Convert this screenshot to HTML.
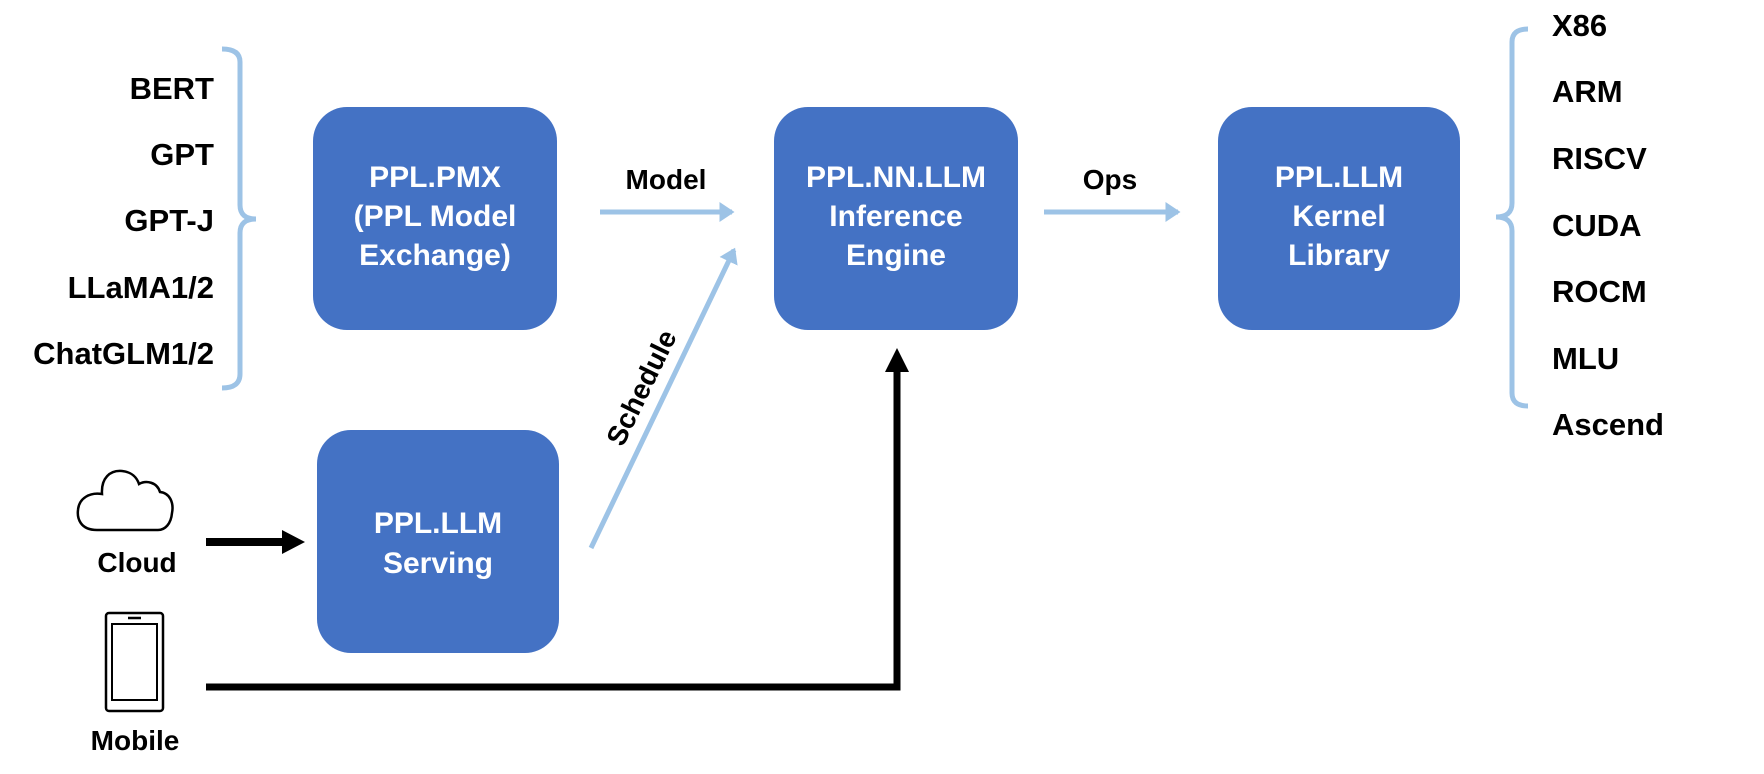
<!DOCTYPE html>
<html><head><meta charset="utf-8"><style>
body{margin:0;background:#fff;}
svg text{font-family:"Liberation Sans","Noto Sans CJK SC",sans-serif;font-weight:bold;}
</style></head><body>
<svg width="1764" height="769" viewBox="0 0 1764 769" xmlns="http://www.w3.org/2000/svg">
<defs>
<marker id="lb" markerWidth="4" markerHeight="4" refX="2.5" refY="2" orient="auto" markerUnits="strokeWidth"><path d="M0,0 L3,2 L0,4 z" fill="#9DC3E6"/></marker>
</defs>
<path d="M222,49 Q240,49 240,62 L240,205 Q240,219 256,219 Q240,219 240,233 L240,374 Q240,388 222,388" fill="none" stroke="#9DC3E6" stroke-width="5"/>
<g font-size="31" text-anchor="end" fill="#000">
<text x="214" y="99">BERT</text>
<text x="214" y="165">GPT</text>
<text x="214" y="231">GPT-J</text>
<text x="214" y="298">LLaMA1/2</text>
<text x="214" y="364">ChatGLM1/2</text>
</g>
<g fill="#4472C4">
<rect x="313" y="107" width="244" height="223" rx="34"/>
<rect x="774" y="107" width="244" height="223" rx="34"/>
<rect x="1218" y="107" width="242" height="223" rx="34"/>
<rect x="317" y="430" width="242" height="223" rx="34"/>
</g>
<g font-size="30" text-anchor="middle" fill="#fff">
<text x="435" y="187">PPL.PMX</text>
<text x="435" y="226">(PPL Model</text>
<text x="435" y="265">Exchange)</text>
<text x="896" y="187">PPL.NN.LLM</text>
<text x="896" y="226">Inference</text>
<text x="896" y="265">Engine</text>
<text x="1339" y="187">PPL.LLM</text>
<text x="1339" y="226">Kernel</text>
<text x="1339" y="265">Library</text>
<text x="438" y="533">PPL.LLM</text>
<text x="438" y="573">Serving</text>
</g>
<line x1="600" y1="212" x2="732" y2="212" stroke="#9DC3E6" stroke-width="5" marker-end="url(#lb)"/>
<line x1="1044" y1="212" x2="1178" y2="212" stroke="#9DC3E6" stroke-width="5" marker-end="url(#lb)"/>
<line x1="591" y1="548" x2="734" y2="250" stroke="#9DC3E6" stroke-width="5" marker-end="url(#lb)"/>
<g font-size="28" fill="#000" text-anchor="middle">
<text x="666" y="189">Model</text>
<text x="1110" y="189">Ops</text>
<text x="0" y="0" transform="translate(650,392) rotate(-64)">Schedule</text>
</g>
<path d="M1528,29 Q1512,29 1512,42 L1512,203 Q1512,217 1496,217 Q1512,217 1512,231 L1512,393 Q1512,406 1528,406" fill="none" stroke="#9DC3E6" stroke-width="5"/>
<g font-size="31" fill="#000">
<text x="1552" y="36">X86</text>
<text x="1552" y="102">ARM</text>
<text x="1552" y="169">RISCV</text>
<text x="1552" y="236">CUDA</text>
<text x="1552" y="302">ROCM</text>
<text x="1552" y="369">MLU</text>
<text x="1552" y="435">Ascend</text>
</g>
<path d="M97,530 C80,530 77,518 78,510 C79,498 90,492 102,494 C101,478 110,470 122,471 C132,472 137,478 139,484 C146,480 157,482 160,492 C170,493 174,503 172,513 C171,524 165,530 158,530 Z" fill="none" stroke="#000" stroke-width="2.5"/>
<text x="137" y="572" font-size="28" text-anchor="middle">Cloud</text>
<line x1="206" y1="542" x2="284" y2="542" stroke="#000" stroke-width="8"/>
<path d="M282,530 L305,542 L282,554 z" fill="#000"/>
<rect x="106" y="613" width="57" height="98" rx="3" fill="none" stroke="#000" stroke-width="2.5"/>
<rect x="112" y="624" width="45" height="76" fill="none" stroke="#000" stroke-width="2"/>
<line x1="128" y1="618" x2="141" y2="618" stroke="#000" stroke-width="2.5"/>
<text x="135" y="750" font-size="28" text-anchor="middle">Mobile</text>
<path d="M206,687 L897,687 L897,370" fill="none" stroke="#000" stroke-width="7"/>
<path d="M885,372 L897,348 L909,372 z" fill="#000"/>
</svg>
</body></html>
